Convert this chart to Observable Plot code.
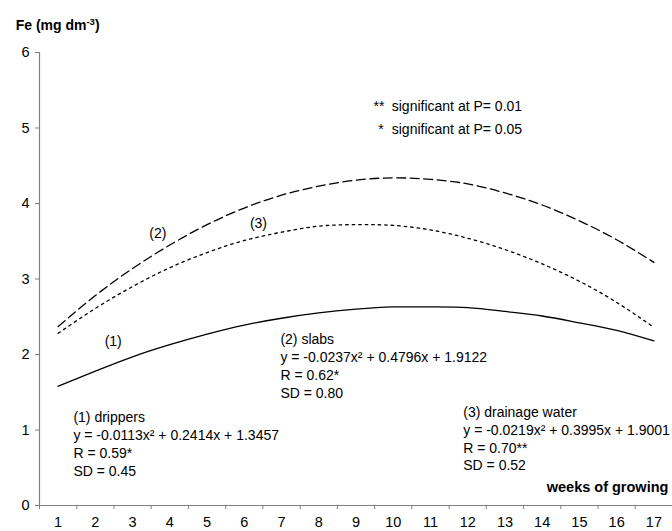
<!DOCTYPE html>
<html>
<head>
<meta charset="utf-8">
<script src="https://cdn.jsdelivr.net/npm/d3@7"></script>
<script src="https://cdn.jsdelivr.net/npm/@observablehq/plot@0.6"></script>
<style>
  html, body { margin: 0; padding: 0; background: #fff; }
  #chart { width: 672px; height: 531px; }
</style>
</head>
<body>
<div id="chart"></div>
<script>
// Weeks of growing (categories)
const weeks = [1, 2, 3, 4, 5, 6, 7, 8, 9, 10, 11, 12, 13, 14, 15, 16, 17];
// Fe (mg dm-3)
const drippers = [1.58, 1.78, 1.97, 2.13, 2.27, 2.39, 2.48, 2.55, 2.60, 2.63, 2.63, 2.62, 2.57, 2.51, 2.42, 2.32, 2.18];
const slabs    = [2.37, 2.78, 3.14, 3.45, 3.72, 3.94, 4.11, 4.23, 4.31, 4.34, 4.32, 4.26, 4.14, 3.98, 3.77, 3.52, 3.22];
const drainage = [2.28, 2.61, 2.90, 3.15, 3.35, 3.51, 3.62, 3.70, 3.72, 3.71, 3.65, 3.54, 3.39, 3.20, 2.97, 2.69, 2.36];
const yTicks = [0, 1, 2, 3, 4, 5, 6];

const seriesNames = ["drippers", "slabs", "drainage water"];
const seriesValues = [drippers, slabs, drainage];
const dashes = [null, "9,4.5", "2.5,4"];

const rows = [];
seriesNames.forEach((name, i) => {
  weeks.forEach((w, j) => rows.push({ series: name, week: w, fe: seriesValues[i][j] }));
});

const boundaries = d3.range(0.5, weeks.length + 1, 1);

const FONT = "'Liberation Sans', Arial, sans-serif";

// annotation texts and their anchor places (data coordinates)
const notes = [
  { x: 1.41, y: 1.27, t: "(1) drippers\ny = -0.0113x² + 0.2414x + 1.3457\nR = 0.59*\nSD = 0.45" },
  { x: 6.97, y: 2.30, t: "(2) slabs\ny = -0.0237x² + 0.4796x + 1.9122\nR = 0.62*\nSD = 0.80" },
  { x: 11.88, y: 1.34, t: "(3) drainage water\ny = -0.0219x² + 0.3995x + 1.9001\nR = 0.70**\nSD = 0.52" }
];
const curveLabels = [
  { x: 2.48, y: 2.17, t: "(1)" },
  { x: 3.68, y: 3.60, t: "(2)" },
  { x: 6.38, y: 3.74, t: "(3)" }
];
const sigStars = [
  { x: 9.47, y: 5.285, t: "**" },
  { x: 9.60, y: 4.98, t: "*" }
];
const sigText = [
  { x: 9.96, y: 5.285, t: "significant at P= 0.01" },
  { x: 9.96, y: 4.98, t: "significant at P= 0.05" }
];

const chart = Plot.plot({
  width: 672,
  height: 531,
  marginLeft: 39,
  marginRight: 0,
  marginTop: 52,
  marginBottom: 26,
  style: { fontFamily: FONT, fontSize: "14px", background: "#fff", color: "#000", overflow: "visible" },
  x: { domain: [0.5, weeks.length + 0.5], axis: null },
  y: { domain: [0, 6], axis: null },
  marks: [
    // axis lines
    Plot.ruleY([0], { stroke: "#808080", strokeWidth: 1.2 }),
    Plot.ruleX([0.5], { y1: 0, y2: 6, stroke: "#808080", strokeWidth: 1.2 }),
    // y ticks and labels
    Plot.axisY({ ticks: yTicks, tickSize: 4, stroke: "#808080", tickFormat: () => "", label: null }),
    Plot.axisY({ ticks: yTicks, tickSize: 0, tickPadding: 10, fill: "#000", fontSize: 14.5, tickFormat: d => String(d), label: null }),
    // x ticks between categories, labels at the categories
    Plot.axisX({ ticks: boundaries, tickSize: 4, stroke: "#808080", tickFormat: () => "", label: null }),
    Plot.axisX({ ticks: weeks, tickSize: 0, tickPadding: 11, fill: "#000", fontSize: 14.5, tickFormat: d => String(d), label: null }),
    // curves
    ...seriesNames.map((name, i) =>
      Plot.line(rows.filter(r => r.series === name), {
        x: "week", y: "fe", curve: "natural",
        stroke: "#000", strokeWidth: 1.3,
        strokeDasharray: dashes[i] ?? undefined
      })
    ),
    // annotations
    Plot.text(notes, { x: "x", y: "y", text: "t", textAnchor: "start", lineAnchor: "top", lineHeight: 1.27, fontSize: 14, fill: "#000" }),
    Plot.text(curveLabels, { x: "x", y: "y", text: "t", fontSize: 14, fill: "#000" }),
    Plot.text(sigStars, { x: "x", y: "y", text: "t", textAnchor: "start", fontSize: 14, fill: "#000" }),
    Plot.text(sigText, { x: "x", y: "y", text: "t", textAnchor: "start", fontSize: 14, fill: "#000" }),
    Plot.text(["weeks of growing"], { x: 17.39, y: 0.238, text: d => d, textAnchor: "end", fontWeight: "bold", fontSize: 14.5, fill: "#000" }),
    Plot.text(["Fe (mg dm-3)"], { x: -0.14, y: 6.36, text: d => d, textAnchor: "start", fontWeight: "bold", fontSize: 14, fill: "#000" })
  ]
});

// superscript for the unit in the y-axis title
chart.querySelectorAll("text").forEach(t => {
  if (t.textContent === "Fe (mg dm-3)") {
    t.textContent = "";
    const ns = "http://www.w3.org/2000/svg";
    const a = document.createElementNS(ns, "tspan"); a.textContent = "Fe (mg dm";
    const b = document.createElementNS(ns, "tspan"); b.textContent = "-3";
    b.setAttribute("font-size", "9.5"); b.setAttribute("dy", "-5");
    const c = document.createElementNS(ns, "tspan"); c.textContent = ")"; c.setAttribute("dy", "5");
    t.append(a, b, c);
  }
});

document.getElementById("chart").append(chart);
</script>
</body>
</html>
